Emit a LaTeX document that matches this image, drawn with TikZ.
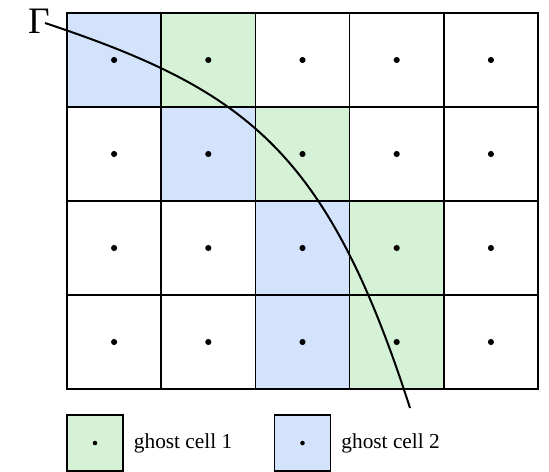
\documentclass[tikz,border=0pt]{standalone}
\usepackage{fontspec}
\setmainfont{Liberation Serif}
\usetikzlibrary{positioning}

\definecolor{ghostgreen}{RGB}{214,242,214}
\definecolor{ghostblue}{RGB}{212,227,252}

\tikzset{
  cell/.style={draw, line width=1.1pt, fill=white, minimum width=70.65pt, minimum height=70.5pt, inner sep=0pt, outer sep=0pt},
  legbox/.style={draw, line width=0.8pt, minimum width=42pt, minimum height=42pt, inner sep=0pt, outer sep=0pt},
  legtext/.style={font=\fontsize{16}{18}\selectfont, inner sep=0pt}
}

\begin{document}
\begin{tikzpicture}[x=0.75pt, y=-0.75pt]
\useasboundingbox (0,0) rectangle (549,471);

% grid of cells
\foreach \r in {0,...,3}
  \foreach \c in {0,...,4}
    \node[cell] (c\r\c) at ({114.1+94.2*\c},{60+94*\r}) {};

% ghost cells
\foreach \r/\c/\col in {0/0/ghostblue, 0/1/ghostgreen, 1/1/ghostblue, 1/2/ghostgreen,
                        2/2/ghostblue, 2/3/ghostgreen, 3/2/ghostblue, 3/3/ghostgreen}
  \node[cell, fill=\col] (g\r\c) at (c\r\c) {};

% cell centres
\foreach \r in {0,...,3}
  \foreach \c in {0,...,4}
    \fill (c\r\c) circle (2.3pt);

% interface
\node[font=\fontsize{28}{28}\selectfont, inner sep=0pt] (gamma) at (39,21) {Γ};
\coordinate (cstart) at (45,23);
\coordinate (cend) at (410,408);
\draw[line width=1.5pt] (cstart) .. controls (246,90) and (327,150) .. (cend);

% legend
\node[legbox, fill=ghostgreen] (leg1) at (95,443) {};
\fill (leg1) circle (1.7pt);
\node[legtext, right=8pt of leg1] (lab1) {ghost cell 1};
\node[legbox, fill=ghostblue] (leg2) at (302.5,443) {};
\fill (leg2) circle (1.7pt);
\node[legtext, right=8pt of leg2] (lab2) {ghost cell 2};
\end{tikzpicture}
\end{document}
